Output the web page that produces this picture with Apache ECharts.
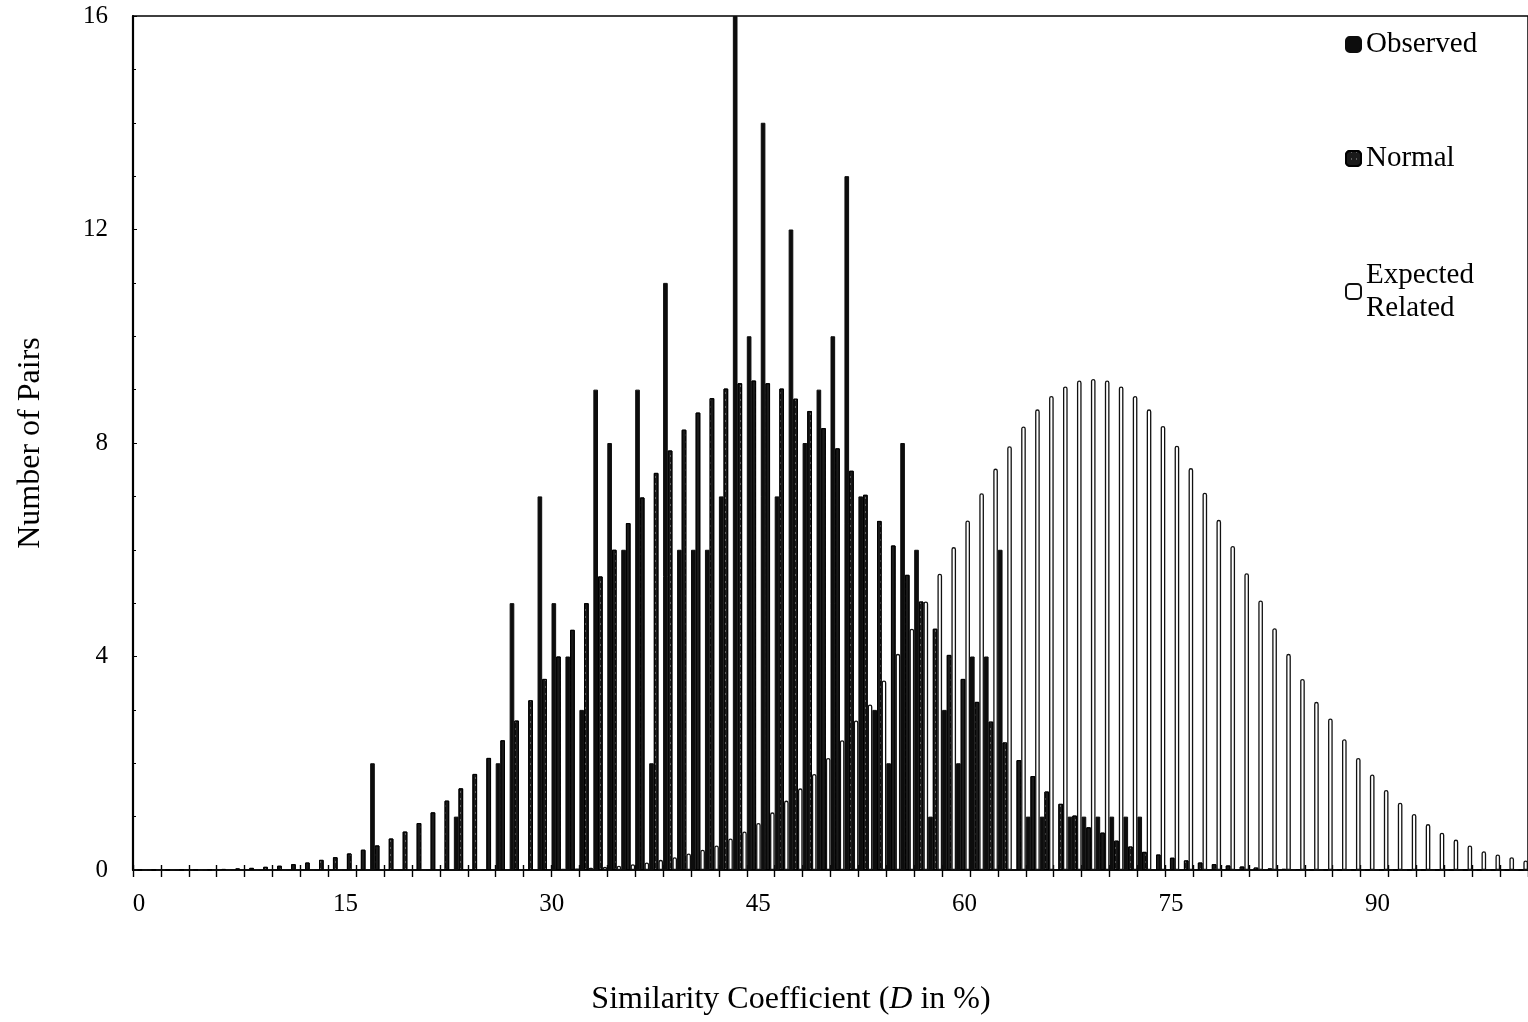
<!DOCTYPE html>
<html><head><meta charset="utf-8">
<script src="https://cdn.jsdelivr.net/npm/echarts@6/dist/echarts.min.js"></script>
<style>html,body{margin:0;padding:0;background:#fff;overflow:hidden}#c{width:1528px;height:1022px}</style>
</head><body><div id="c"></div>
<script>
const categories = [0,1,2,3,4,5,6,7,8,9,10,11,12,13,14,15,16,17,18,19,20,21,22,23,24,25,26,27,28,29,30,31,32,33,34,35,36,37,38,39,40,41,42,43,44,45,46,47,48,49,50,51,52,53,54,55,56,57,58,59,60,61,62,63,64,65,66,67,68,69,70,71,72,73,74,75,76,77,78,79,80,81,82,83,84,85,86,87,88,89,90,91,92,93,94,95,96,97,98,99];
const observed = [
0,0,0,0,0,0,0,0,0,0,
0,0,0,0,0,0,0,2,0,0,
0,0,0,1,0,0,2,5,0,7,
5,4,3,9,8,6,9,2,11,6,
6,6,7,16,10,14,7,12,8,9,
10,13,7,3,2,8,6,1,3,2,
4,4,6,0,1,1,0,1,1,1,
1,1,1,0,0,0,0,0,0,0,
0,0,0,0,0,0,0,0,0,0,
0,0,0,0,0,0,0,0,0,0];
const normal = [
0.003,0.004,0.005,0.007,0.009,0.012,0.02,0.03,0.04,0.06,
0.08,0.11,0.14,0.19,0.24,0.31,0.38,0.46,0.59,0.72,
0.88,1.08,1.3,1.53,1.8,2.1,2.43,2.8,3.18,3.58,
4.0,4.5,5.0,5.5,6.0,6.5,6.98,7.44,7.86,8.25,
8.57,8.84,9.02,9.12,9.17,9.12,9.02,8.83,8.6,8.28,
7.9,7.48,7.03,6.54,6.08,5.53,5.03,4.52,4.03,3.58,
3.15,2.78,2.39,2.06,1.76,1.47,1.24,1.02,0.8,0.7,
0.55,0.44,0.34,0.29,0.23,0.18,0.14,0.11,0.085,0.065,
0.046,0.03,0.022,0.016,0.011,0.008,0.005,0.004,0.003,0.002,
0.001,0.001,0.001,0,0,0,0,0,0,0];
const expectedRelated = [
0,0,0,0,0,0,0,0,0,0,
0,0,0,0,0,0,0,0,0,0,
0,0.001,0.001,0.002,0.003,0.004,0.005,0.007,0.01,0.015,
0.02,0.03,0.04,0.06,0.08,0.11,0.14,0.19,0.24,0.31,
0.38,0.46,0.59,0.72,0.88,1.08,1.3,1.53,1.8,2.1,
2.43,2.8,3.1,3.55,4.05,4.52,5.03,5.55,6.05,6.55,
7.06,7.52,7.94,8.31,8.63,8.88,9.06,9.17,9.2,9.17,
9.06,8.88,8.63,8.32,7.95,7.53,7.07,6.56,6.07,5.56,
5.05,4.53,4.05,3.58,3.15,2.84,2.45,2.1,1.79,1.5,
1.26,1.05,0.86,0.7,0.57,0.46,0.35,0.29,0.24,0.18];
const xTickLabels = [0,15,30,45,60,75,90];
const yTickLabels = [0,4,8,12,16];

const FONT = '"Liberation Serif","Times New Roman",serif';
const chart = echarts.init(document.getElementById('c'), null, {renderer:'canvas'});
const option = {
  animation:false,
  backgroundColor:'#fff',
  grid:[
    {left:133, right:-1, top:16, bottom:152, show:true, borderColor:'#000', borderWidth:1.5, backgroundColor:'transparent'},
    {left:139, width:1238.4, top:16, bottom:152, show:false}
  ],
  xAxis:[
    {type:'category', gridIndex:0, data:categories, position:'bottom',
     axisLine:{show:true, lineStyle:{color:'#000', width:1.6}},
     axisTick:{show:true, inside:false, length:7, lineStyle:{color:'#000', width:1.4}},
     axisLabel:{show:false}, splitLine:{show:false}},
    {type:'category', gridIndex:0, data:categories, position:'bottom',
     axisLine:{show:false},
     axisTick:{show:true, inside:true, length:5, lineStyle:{color:'#000', width:1.4}},
     axisLabel:{show:false}, splitLine:{show:false}},
    {type:'value', gridIndex:1, min:xTickLabels[0], max:xTickLabels[xTickLabels.length-1], interval:xTickLabels[1]-xTickLabels[0],
     axisLine:{show:false}, axisTick:{show:false}, splitLine:{show:false},
     axisLabel:{color:'#000', fontFamily:FONT, fontSize:25, margin:22}}
  ],
  yAxis:[
    {type:'value', gridIndex:0, min:yTickLabels[0], max:yTickLabels[yTickLabels.length-1], interval:yTickLabels[1]-yTickLabels[0],
     name:'Number of Pairs', nameLocation:'middle', nameGap:86, nameRotate:90,
     nameTextStyle:{color:'#000', fontFamily:FONT, fontSize:32},
     axisLine:{show:true, lineStyle:{color:'#000', width:2.2}},
     axisTick:{show:true, inside:true, length:4, lineStyle:{color:'#000', width:1}},
     minorTick:{show:true, splitNumber:4, length:3, lineStyle:{color:'#000', width:1}},
     splitLine:{show:false}, minorSplitLine:{show:false},
     axisLabel:{color:'#000', fontFamily:FONT, fontSize:25, margin:25}},
    {type:'value', gridIndex:1, show:false, min:0, max:16}
  ],
  legend:[
    {data:['Observed'], left:1345, top:30, orient:'vertical', padding:0, itemWidth:15, itemHeight:15, itemGap:0, selectedMode:false,
     textStyle:{color:'#000', fontFamily:FONT, fontSize:29}},
    {data:['Normal'], left:1345, top:144, orient:'vertical', padding:0, itemWidth:15, itemHeight:15, itemGap:0, selectedMode:false,
     textStyle:{color:'#000', fontFamily:FONT, fontSize:29}},
    {data:['Expected Related'], left:1345, top:242, orient:'vertical', padding:0, itemWidth:15, itemHeight:15, itemGap:0, selectedMode:false,
     formatter: function(n){ return n.replace(' ', '\n'); },
     textStyle:{color:'#000', fontFamily:FONT, fontSize:29, lineHeight:33, padding:[33,0,0,0]}}
  ],
  graphic:[
    {type:'text', x:791, y:1000, style:{
      text:'Similarity Coefficient ({i|D} in %)',
      fontFamily:FONT, fontSize:32, fill:'#000', align:'center', verticalAlign:'middle',
      rich:{i:{fontStyle:'italic', fontFamily:FONT, fontSize:32, fill:'#000'}}
    }}
  ],
  series:[
    {name:'Observed', type:'bar', xAxisIndex:0, yAxisIndex:0, data:observed,
     barGap:'0%', barCategoryGap:'0%',
     itemStyle:{color:'#0d0d0d', borderColor:'#0d0d0d', borderWidth:1}},
    {name:'Normal', type:'bar', xAxisIndex:0, yAxisIndex:0, data:normal,
     barGap:'0%', barCategoryGap:'0%',
     itemStyle:{color:'#1a1a1a', borderColor:'#000', borderWidth:1,
       decal:{symbol:'rect', symbolSize:1, color:'rgba(255,255,255,0.3)', dashArrayX:[1,4], dashArrayY:[1.5,5], rotation:0}}},
    {name:'Expected Related', type:'bar', xAxisIndex:0, yAxisIndex:0, data:expectedRelated,
     barGap:'0%', barCategoryGap:'0%',
     itemStyle:{color:'#fff', borderColor:'#111', borderWidth:1.3, borderRadius:[2,2,0,0]}}
  ]
};
chart.setOption(option);
</script>
</body></html>
